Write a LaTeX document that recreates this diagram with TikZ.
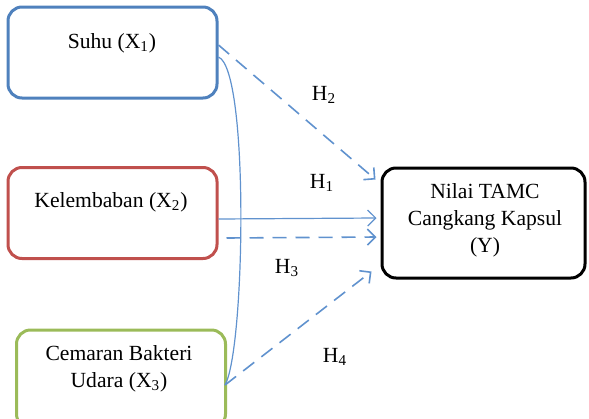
\documentclass[tikz,border=0pt]{standalone}
\usepackage{fontspec}
\setmainfont{Liberation Serif}
\usepackage{tikz}
\usetikzlibrary{positioning,arrows.meta}
\usepackage{xcolor}
\definecolor{boxblue}{RGB}{79,129,189}
\definecolor{boxred}{RGB}{192,80,77}
\definecolor{boxgreen}{RGB}{155,187,89}
\definecolor{linkblue}{RGB}{96,146,206}

\begin{document}
\begin{tikzpicture}[x=0.5pt,y=-0.5pt,>={Straight Barb[length=4pt,width=8pt]},
  varbox/.style={draw,rounded corners=7pt,line width=1.5pt,minimum width=104.5pt,minimum height=45.5pt},
  link/.style={->,draw=linkblue,line width=0.6pt},
  dlink/.style={link,line width=0.8pt,dash pattern=on 7pt off 4.5pt},
  lbl/.style={font=\fontsize{10.8}{13.5}\selectfont,align=center,inner sep=0pt}]
\useasboundingbox (0,0) rectangle (589,418);
\node[varbox,draw=boxblue] (suhu) at (112.5,52.5) {};
\node[varbox,draw=boxred] (kel) at (112.5,213) {};
\node[varbox,draw=boxgreen,minimum height=49pt] (cem) at (121,379) {};
\node[varbox,draw=black,minimum width=101.5pt,minimum height=55pt] (nilai) at (483.5,223) {};
\node[lbl] (suhu-t) at (112,43) {Suhu (X\textsubscript{1})};
\node[lbl] (kel-t) at (111,202) {Kelembaban (X\textsubscript{2})};
\node[lbl] (cem-t) at (119,369) {Cemaran Bakteri\\Udara (X\textsubscript{3})};
\node[lbl] (nilai-t) at (485,220) {Nilai TAMC\\Cangkang Kapsul\\(Y)};
\draw[dlink] ([yshift=3.75pt]suhu.east) -- ([xshift=-2.5pt,yshift=-6.5pt]nilai.north west);
\draw[link] ([yshift=-3pt]kel.east) -- ([xshift=-2pt,yshift=2.5pt]nilai.west);
\draw[dlink] ([xshift=4pt,yshift=-12.5pt]kel.east) -- ([xshift=-2pt,yshift=-7pt]nilai.west);
\draw[dlink] ([xshift=-1pt,yshift=-3pt]cem.east) -- ([xshift=-4.5pt,yshift=4pt]nilai.south west);
\draw[draw=linkblue,line width=0.6pt] ([yshift=-2.25pt]suhu.east) .. controls +(31,13) and +(20,-35) .. ([xshift=-1pt,yshift=-3pt]cem.east);
\node[lbl] (h2) at (324,95) {H\textsubscript{2}};
\node[lbl] (h1) at (322,183) {H\textsubscript{1}};
\node[lbl] (h3) at (287,268) {H\textsubscript{3}};
\node[lbl] (h4) at (335,357) {H\textsubscript{4}};
\end{tikzpicture}
\end{document}
